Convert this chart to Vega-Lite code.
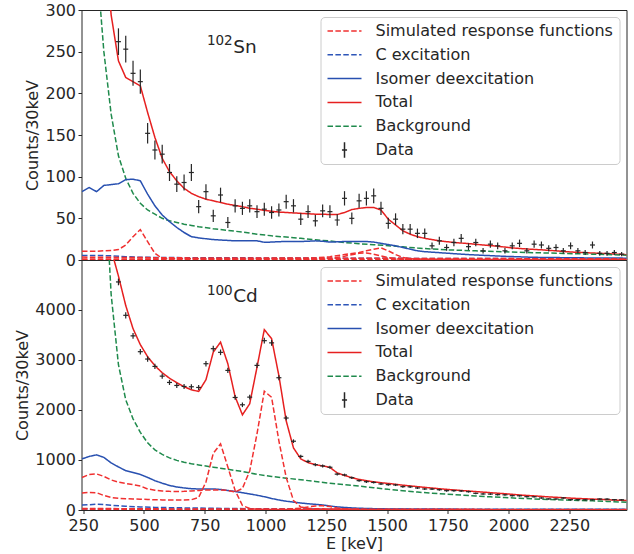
{
"$schema": "https://vega.github.io/schema/vega-lite/v6.json",
"padding": {"left": 13.5, "top": 1, "right": 7, "bottom": 2},
"spacing": 0,
"bounds": "flush",
"datasets": {
"tl": [
{"s":"Total","c":"tot","E":245,"v":700},{"s":"Total","c":"tot","E":275,"v":560},{"s":"Total","c":"tot","E":305,"v":470},{"s":"Total","c":"tot","E":335,"v":400},{"s":"Total","c":"tot","E":365,"v":294},{"s":"Total","c":"tot","E":395,"v":239},{"s":"Total","c":"tot","E":425,"v":219},{"s":"Total","c":"tot","E":455,"v":214},{"s":"Total","c":"tot","E":485,"v":209},{"s":"Total","c":"tot","E":515,"v":177},{"s":"Total","c":"tot","E":545,"v":147},{"s":"Total","c":"tot","E":575,"v":122},{"s":"Total","c":"tot","E":605,"v":106},{"s":"Total","c":"tot","E":635,"v":95},{"s":"Total","c":"tot","E":665,"v":86},{"s":"Total","c":"tot","E":695,"v":80},{"s":"Total","c":"tot","E":725,"v":76},{"s":"Total","c":"tot","E":755,"v":73},{"s":"Total","c":"tot","E":785,"v":71},{"s":"Total","c":"tot","E":815,"v":69},{"s":"Total","c":"tot","E":845,"v":67},{"s":"Total","c":"tot","E":875,"v":65.5},{"s":"Total","c":"tot","E":905,"v":64},{"s":"Total","c":"tot","E":935,"v":62},{"s":"Total","c":"tot","E":965,"v":61},{"s":"Total","c":"tot","E":995,"v":59.5},{"s":"Total","c":"tot","E":1025,"v":58.5},{"s":"Total","c":"tot","E":1055,"v":57.5},{"s":"Total","c":"tot","E":1085,"v":57},{"s":"Total","c":"tot","E":1115,"v":56.5},{"s":"Total","c":"tot","E":1145,"v":56},{"s":"Total","c":"tot","E":1175,"v":55.5},{"s":"Total","c":"tot","E":1205,"v":55},{"s":"Total","c":"tot","E":1235,"v":55},{"s":"Total","c":"tot","E":1265,"v":54.5},{"s":"Total","c":"tot","E":1295,"v":54.5},{"s":"Total","c":"tot","E":1325,"v":57},{"s":"Total","c":"tot","E":1355,"v":60.5},{"s":"Total","c":"tot","E":1385,"v":62},{"s":"Total","c":"tot","E":1415,"v":63},{"s":"Total","c":"tot","E":1445,"v":63},{"s":"Total","c":"tot","E":1475,"v":60},{"s":"Total","c":"tot","E":1505,"v":49},{"s":"Total","c":"tot","E":1535,"v":42},{"s":"Total","c":"tot","E":1565,"v":35},{"s":"Total","c":"tot","E":1595,"v":31},{"s":"Total","c":"tot","E":1625,"v":28},{"s":"Total","c":"tot","E":1655,"v":26},{"s":"Total","c":"tot","E":1685,"v":24.5},{"s":"Total","c":"tot","E":1715,"v":23},{"s":"Total","c":"tot","E":1775,"v":21},{"s":"Total","c":"tot","E":1835,"v":19.7},{"s":"Total","c":"tot","E":1895,"v":18},{"s":"Total","c":"tot","E":1955,"v":16.5},{"s":"Total","c":"tot","E":2015,"v":14.5},{"s":"Total","c":"tot","E":2075,"v":13.2},{"s":"Total","c":"tot","E":2135,"v":12.2},{"s":"Total","c":"tot","E":2195,"v":11},{"s":"Total","c":"tot","E":2255,"v":9.6},{"s":"Total","c":"tot","E":2315,"v":8.8},{"s":"Total","c":"tot","E":2375,"v":8},{"s":"Total","c":"tot","E":2435,"v":7.2},{"s":"Total","c":"tot","E":2495,"v":6.2},
{"s":"Background","c":"bg","E":245,"v":800},{"s":"Background","c":"bg","E":275,"v":520},{"s":"Background","c":"bg","E":305,"v":360},{"s":"Background","c":"bg","E":335,"v":250},{"s":"Background","c":"bg","E":365,"v":175},{"s":"Background","c":"bg","E":395,"v":125},{"s":"Background","c":"bg","E":425,"v":98},{"s":"Background","c":"bg","E":455,"v":80},{"s":"Background","c":"bg","E":485,"v":68},{"s":"Background","c":"bg","E":515,"v":60},{"s":"Background","c":"bg","E":545,"v":55},{"s":"Background","c":"bg","E":575,"v":50},{"s":"Background","c":"bg","E":605,"v":47},{"s":"Background","c":"bg","E":635,"v":45},{"s":"Background","c":"bg","E":665,"v":43},{"s":"Background","c":"bg","E":695,"v":41.5},{"s":"Background","c":"bg","E":725,"v":40},{"s":"Background","c":"bg","E":785,"v":37.5},{"s":"Background","c":"bg","E":845,"v":35.5},{"s":"Background","c":"bg","E":905,"v":33.5},{"s":"Background","c":"bg","E":965,"v":31},{"s":"Background","c":"bg","E":1025,"v":29},{"s":"Background","c":"bg","E":1085,"v":27.5},{"s":"Background","c":"bg","E":1145,"v":26},{"s":"Background","c":"bg","E":1205,"v":24.3},{"s":"Background","c":"bg","E":1265,"v":22.8},{"s":"Background","c":"bg","E":1325,"v":21},{"s":"Background","c":"bg","E":1385,"v":19.6},{"s":"Background","c":"bg","E":1445,"v":18.3},{"s":"Background","c":"bg","E":1505,"v":17.2},{"s":"Background","c":"bg","E":1565,"v":15.8},{"s":"Background","c":"bg","E":1625,"v":14.3},{"s":"Background","c":"bg","E":1685,"v":13.2},{"s":"Background","c":"bg","E":1745,"v":12.2},{"s":"Background","c":"bg","E":1865,"v":11},{"s":"Background","c":"bg","E":1985,"v":9.8},{"s":"Background","c":"bg","E":2105,"v":8.8},{"s":"Background","c":"bg","E":2225,"v":7.9},{"s":"Background","c":"bg","E":2345,"v":7},{"s":"Background","c":"bg","E":2495,"v":5.6},
{"s":"Isomer deexcitation","c":"iso","E":245,"v":82},{"s":"Isomer deexcitation","c":"iso","E":275,"v":87},{"s":"Isomer deexcitation","c":"iso","E":305,"v":82},{"s":"Isomer deexcitation","c":"iso","E":335,"v":89.5},{"s":"Isomer deexcitation","c":"iso","E":365,"v":90.5},{"s":"Isomer deexcitation","c":"iso","E":395,"v":91.5},{"s":"Isomer deexcitation","c":"iso","E":425,"v":96.5},{"s":"Isomer deexcitation","c":"iso","E":455,"v":97},{"s":"Isomer deexcitation","c":"iso","E":485,"v":95},{"s":"Isomer deexcitation","c":"iso","E":515,"v":79},{"s":"Isomer deexcitation","c":"iso","E":545,"v":65},{"s":"Isomer deexcitation","c":"iso","E":575,"v":54},{"s":"Isomer deexcitation","c":"iso","E":605,"v":46},{"s":"Isomer deexcitation","c":"iso","E":635,"v":39},{"s":"Isomer deexcitation","c":"iso","E":665,"v":33},{"s":"Isomer deexcitation","c":"iso","E":695,"v":28},{"s":"Isomer deexcitation","c":"iso","E":725,"v":26.5},{"s":"Isomer deexcitation","c":"iso","E":755,"v":25.5},{"s":"Isomer deexcitation","c":"iso","E":785,"v":24.5},{"s":"Isomer deexcitation","c":"iso","E":815,"v":24},{"s":"Isomer deexcitation","c":"iso","E":845,"v":23.5},{"s":"Isomer deexcitation","c":"iso","E":875,"v":23},{"s":"Isomer deexcitation","c":"iso","E":905,"v":23},{"s":"Isomer deexcitation","c":"iso","E":935,"v":23},{"s":"Isomer deexcitation","c":"iso","E":965,"v":23},{"s":"Isomer deexcitation","c":"iso","E":995,"v":21.3},{"s":"Isomer deexcitation","c":"iso","E":1025,"v":21.5},{"s":"Isomer deexcitation","c":"iso","E":1055,"v":22},{"s":"Isomer deexcitation","c":"iso","E":1085,"v":22.2},{"s":"Isomer deexcitation","c":"iso","E":1115,"v":22.2},{"s":"Isomer deexcitation","c":"iso","E":1145,"v":22.2},{"s":"Isomer deexcitation","c":"iso","E":1175,"v":22.5},{"s":"Isomer deexcitation","c":"iso","E":1205,"v":23},{"s":"Isomer deexcitation","c":"iso","E":1235,"v":22.5},{"s":"Isomer deexcitation","c":"iso","E":1265,"v":21.5},{"s":"Isomer deexcitation","c":"iso","E":1295,"v":21.8},{"s":"Isomer deexcitation","c":"iso","E":1325,"v":22.2},{"s":"Isomer deexcitation","c":"iso","E":1355,"v":22.2},{"s":"Isomer deexcitation","c":"iso","E":1385,"v":22.2},{"s":"Isomer deexcitation","c":"iso","E":1415,"v":22.2},{"s":"Isomer deexcitation","c":"iso","E":1445,"v":21.5},{"s":"Isomer deexcitation","c":"iso","E":1475,"v":20},{"s":"Isomer deexcitation","c":"iso","E":1505,"v":18.5},{"s":"Isomer deexcitation","c":"iso","E":1535,"v":17},{"s":"Isomer deexcitation","c":"iso","E":1565,"v":15},{"s":"Isomer deexcitation","c":"iso","E":1595,"v":13},{"s":"Isomer deexcitation","c":"iso","E":1625,"v":11},{"s":"Isomer deexcitation","c":"iso","E":1655,"v":10},{"s":"Isomer deexcitation","c":"iso","E":1685,"v":9.4},{"s":"Isomer deexcitation","c":"iso","E":1745,"v":8.2},{"s":"Isomer deexcitation","c":"iso","E":1805,"v":7},{"s":"Isomer deexcitation","c":"iso","E":1865,"v":6},{"s":"Isomer deexcitation","c":"iso","E":1985,"v":4.4},{"s":"Isomer deexcitation","c":"iso","E":2105,"v":3.2},{"s":"Isomer deexcitation","c":"iso","E":2285,"v":2.6},{"s":"Isomer deexcitation","c":"iso","E":2495,"v":2.2},
{"s":"C excitation","c":"cex","E":245,"v":5.5},{"s":"C excitation","c":"cex","E":305,"v":5.5},{"s":"C excitation","c":"cex","E":365,"v":5},{"s":"C excitation","c":"cex","E":425,"v":4},{"s":"C excitation","c":"cex","E":485,"v":3.3},{"s":"C excitation","c":"cex","E":605,"v":2.9},{"s":"C excitation","c":"cex","E":905,"v":2.6},{"s":"C excitation","c":"cex","E":1205,"v":2.3},{"s":"C excitation","c":"cex","E":1505,"v":2},{"s":"C excitation","c":"cex","E":1805,"v":1.8},{"s":"C excitation","c":"cex","E":2105,"v":1.6},{"s":"C excitation","c":"cex","E":2495,"v":1.4},
{"s":"Simulated response functions","c":"s1","E":245,"v":10.5},{"s":"Simulated response functions","c":"s1","E":275,"v":10.5},{"s":"Simulated response functions","c":"s1","E":305,"v":10.5},{"s":"Simulated response functions","c":"s1","E":335,"v":11},{"s":"Simulated response functions","c":"s1","E":365,"v":11.5},{"s":"Simulated response functions","c":"s1","E":395,"v":12.5},{"s":"Simulated response functions","c":"s1","E":425,"v":18},{"s":"Simulated response functions","c":"s1","E":455,"v":28},{"s":"Simulated response functions","c":"s1","E":485,"v":36.5},{"s":"Simulated response functions","c":"s1","E":515,"v":22},{"s":"Simulated response functions","c":"s1","E":545,"v":8},{"s":"Simulated response functions","c":"s1","E":575,"v":2},{"s":"Simulated response functions","c":"s1","E":605,"v":1.5},{"s":"Simulated response functions","c":"s1","E":905,"v":1.2},{"s":"Simulated response functions","c":"s1","E":1205,"v":1},{"s":"Simulated response functions","c":"s1","E":1505,"v":0.8},{"s":"Simulated response functions","c":"s1","E":2495,"v":0.5},
{"s":"Simulated response functions","c":"s0","E":245,"v":3.5},{"s":"Simulated response functions","c":"s0","E":365,"v":3.2},{"s":"Simulated response functions","c":"s0","E":605,"v":2.6},{"s":"Simulated response functions","c":"s0","E":905,"v":2.4},{"s":"Simulated response functions","c":"s0","E":1205,"v":2.2},{"s":"Simulated response functions","c":"s0","E":1505,"v":2},{"s":"Simulated response functions","c":"s0","E":1805,"v":1.8},{"s":"Simulated response functions","c":"s0","E":2105,"v":1.6},{"s":"Simulated response functions","c":"s0","E":2495,"v":1.3},
{"s":"Simulated response functions","c":"s2","E":245,"v":1.2},{"s":"Simulated response functions","c":"s2","E":605,"v":1.3},{"s":"Simulated response functions","c":"s2","E":905,"v":1.6},{"s":"Simulated response functions","c":"s2","E":1145,"v":2},{"s":"Simulated response functions","c":"s2","E":1205,"v":2.5},{"s":"Simulated response functions","c":"s2","E":1265,"v":4},{"s":"Simulated response functions","c":"s2","E":1325,"v":6.5},{"s":"Simulated response functions","c":"s2","E":1385,"v":9},{"s":"Simulated response functions","c":"s2","E":1415,"v":11},{"s":"Simulated response functions","c":"s2","E":1445,"v":13},{"s":"Simulated response functions","c":"s2","E":1475,"v":14.5},{"s":"Simulated response functions","c":"s2","E":1505,"v":11},{"s":"Simulated response functions","c":"s2","E":1535,"v":6.5},{"s":"Simulated response functions","c":"s2","E":1565,"v":3},{"s":"Simulated response functions","c":"s2","E":1595,"v":1.5},{"s":"Simulated response functions","c":"s2","E":1655,"v":0.8},{"s":"Simulated response functions","c":"s2","E":2495,"v":0.5},
{"s":"Simulated response functions","c":"s3","E":245,"v":0.4},{"s":"Simulated response functions","c":"s3","E":1145,"v":0.6},{"s":"Simulated response functions","c":"s3","E":1205,"v":1},{"s":"Simulated response functions","c":"s3","E":1265,"v":2},{"s":"Simulated response functions","c":"s3","E":1325,"v":4.5},{"s":"Simulated response functions","c":"s3","E":1385,"v":8},{"s":"Simulated response functions","c":"s3","E":1415,"v":8.5},{"s":"Simulated response functions","c":"s3","E":1445,"v":7},{"s":"Simulated response functions","c":"s3","E":1475,"v":5},{"s":"Simulated response functions","c":"s3","E":1505,"v":3},{"s":"Simulated response functions","c":"s3","E":1535,"v":1.2},{"s":"Simulated response functions","c":"s3","E":1595,"v":0.5},{"s":"Simulated response functions","c":"s3","E":2495,"v":0.3}
],
"td": [
{"s":"Data","E":395,"v":262,"lo":246,"hi":278},{"s":"Data","E":425,"v":253,"lo":237,"hi":269},{"s":"Data","E":455,"v":224,"lo":209,"hi":239},{"s":"Data","E":485,"v":214,"lo":199.5,"hi":228.5},{"s":"Data","E":515,"v":152,"lo":139.7,"hi":164.3},{"s":"Data","E":545,"v":132,"lo":120.5,"hi":143.5},{"s":"Data","E":575,"v":127,"lo":115.7,"hi":138.3},{"s":"Data","E":605,"v":105,"lo":94.8,"hi":115.2},{"s":"Data","E":635,"v":91,"lo":81.5,"hi":100.5},{"s":"Data","E":665,"v":93,"lo":83.4,"hi":102.6},{"s":"Data","E":695,"v":105,"lo":94.8,"hi":115.2},{"s":"Data","E":725,"v":64,"lo":56,"hi":72},{"s":"Data","E":755,"v":82,"lo":73,"hi":91},{"s":"Data","E":785,"v":53,"lo":45.7,"hi":60.3},{"s":"Data","E":815,"v":78,"lo":69.2,"hi":86.8},{"s":"Data","E":845,"v":45,"lo":38.3,"hi":51.7},{"s":"Data","E":875,"v":65,"lo":57,"hi":73},{"s":"Data","E":905,"v":62,"lo":54.1,"hi":69.9},{"s":"Data","E":935,"v":65,"lo":57,"hi":73},{"s":"Data","E":965,"v":58,"lo":50.4,"hi":65.6},{"s":"Data","E":995,"v":61,"lo":53.2,"hi":68.8},{"s":"Data","E":1025,"v":57,"lo":49.5,"hi":64.5},{"s":"Data","E":1055,"v":60,"lo":52.3,"hi":67.7},{"s":"Data","E":1085,"v":70,"lo":61.6,"hi":78.4},{"s":"Data","E":1115,"v":65,"lo":57,"hi":73},{"s":"Data","E":1145,"v":49,"lo":42,"hi":56},{"s":"Data","E":1175,"v":58,"lo":50.4,"hi":65.6},{"s":"Data","E":1205,"v":47,"lo":40.1,"hi":53.9},{"s":"Data","E":1235,"v":59,"lo":51.3,"hi":66.7},{"s":"Data","E":1265,"v":58,"lo":50.4,"hi":65.6},{"s":"Data","E":1295,"v":48,"lo":41.1,"hi":54.9},{"s":"Data","E":1325,"v":74,"lo":65.4,"hi":82.6},{"s":"Data","E":1355,"v":50,"lo":42.9,"hi":57.1},{"s":"Data","E":1385,"v":71,"lo":62.6,"hi":79.4},{"s":"Data","E":1415,"v":74,"lo":65.4,"hi":82.6},{"s":"Data","E":1445,"v":77,"lo":68.2,"hi":85.8},{"s":"Data","E":1475,"v":62,"lo":54.1,"hi":69.9},{"s":"Data","E":1505,"v":44,"lo":37.4,"hi":50.6},{"s":"Data","E":1535,"v":49,"lo":42,"hi":56},{"s":"Data","E":1565,"v":37,"lo":30.9,"hi":43.1},{"s":"Data","E":1595,"v":37,"lo":30.9,"hi":43.1},{"s":"Data","E":1625,"v":32,"lo":26.3,"hi":37.7},{"s":"Data","E":1655,"v":32,"lo":26.3,"hi":37.7},{"s":"Data","E":1685,"v":17,"lo":12.9,"hi":21.1},{"s":"Data","E":1715,"v":23,"lo":18.2,"hi":27.8},{"s":"Data","E":1745,"v":15,"lo":11.1,"hi":18.9},{"s":"Data","E":1775,"v":21,"lo":16.4,"hi":25.6},{"s":"Data","E":1805,"v":26,"lo":20.9,"hi":31.1},{"s":"Data","E":1835,"v":16,"lo":12,"hi":20},{"s":"Data","E":1865,"v":21,"lo":16.4,"hi":25.6},{"s":"Data","E":1895,"v":11,"lo":7.7,"hi":14.3},{"s":"Data","E":1925,"v":19,"lo":14.6,"hi":23.4},{"s":"Data","E":1955,"v":17,"lo":12.9,"hi":21.1},{"s":"Data","E":1985,"v":11,"lo":7.7,"hi":14.3},{"s":"Data","E":2015,"v":17,"lo":12.9,"hi":21.1},{"s":"Data","E":2045,"v":20,"lo":15.5,"hi":24.5},{"s":"Data","E":2075,"v":11,"lo":7.7,"hi":14.3},{"s":"Data","E":2105,"v":19,"lo":14.6,"hi":23.4},{"s":"Data","E":2135,"v":18,"lo":13.8,"hi":22.2},{"s":"Data","E":2165,"v":14,"lo":10.3,"hi":17.7},{"s":"Data","E":2195,"v":15,"lo":11.1,"hi":18.9},{"s":"Data","E":2225,"v":11,"lo":7.7,"hi":14.3},{"s":"Data","E":2255,"v":17,"lo":12.9,"hi":21.1},{"s":"Data","E":2285,"v":11,"lo":7.7,"hi":14.3},{"s":"Data","E":2315,"v":9,"lo":6,"hi":12},{"s":"Data","E":2345,"v":18,"lo":13.8,"hi":22.2},{"s":"Data","E":2375,"v":8,"lo":5.2,"hi":10.8},{"s":"Data","E":2405,"v":8,"lo":5.2,"hi":10.8},{"s":"Data","E":2435,"v":9,"lo":6,"hi":12},{"s":"Data","E":2465,"v":7,"lo":4.4,"hi":9.6}
],
"bl": [
{"s":"Total","c":"tot","E":245,"v":9000},{"s":"Total","c":"tot","E":275,"v":8000},{"s":"Total","c":"tot","E":305,"v":7000},{"s":"Total","c":"tot","E":335,"v":5900},{"s":"Total","c":"tot","E":365,"v":5200},{"s":"Total","c":"tot","E":395,"v":4670},{"s":"Total","c":"tot","E":425,"v":4080},{"s":"Total","c":"tot","E":455,"v":3620},{"s":"Total","c":"tot","E":485,"v":3300},{"s":"Total","c":"tot","E":515,"v":3060},{"s":"Total","c":"tot","E":545,"v":2880},{"s":"Total","c":"tot","E":575,"v":2740},{"s":"Total","c":"tot","E":605,"v":2630},{"s":"Total","c":"tot","E":635,"v":2540},{"s":"Total","c":"tot","E":665,"v":2460},{"s":"Total","c":"tot","E":695,"v":2400},{"s":"Total","c":"tot","E":725,"v":2366},{"s":"Total","c":"tot","E":755,"v":2600},{"s":"Total","c":"tot","E":785,"v":3150},{"s":"Total","c":"tot","E":815,"v":3350},{"s":"Total","c":"tot","E":845,"v":2920},{"s":"Total","c":"tot","E":875,"v":2260},{"s":"Total","c":"tot","E":905,"v":1900},{"s":"Total","c":"tot","E":935,"v":2120},{"s":"Total","c":"tot","E":965,"v":2850},{"s":"Total","c":"tot","E":995,"v":3600},{"s":"Total","c":"tot","E":1025,"v":3420},{"s":"Total","c":"tot","E":1055,"v":2680},{"s":"Total","c":"tot","E":1085,"v":1780},{"s":"Total","c":"tot","E":1115,"v":1240},{"s":"Total","c":"tot","E":1145,"v":1020},{"s":"Total","c":"tot","E":1175,"v":945},{"s":"Total","c":"tot","E":1205,"v":905},{"s":"Total","c":"tot","E":1235,"v":880},{"s":"Total","c":"tot","E":1265,"v":850},{"s":"Total","c":"tot","E":1295,"v":740},{"s":"Total","c":"tot","E":1325,"v":690},{"s":"Total","c":"tot","E":1355,"v":645},{"s":"Total","c":"tot","E":1385,"v":610},{"s":"Total","c":"tot","E":1415,"v":585},{"s":"Total","c":"tot","E":1445,"v":562},{"s":"Total","c":"tot","E":1475,"v":545},{"s":"Total","c":"tot","E":1505,"v":530},{"s":"Total","c":"tot","E":1565,"v":496},{"s":"Total","c":"tot","E":1625,"v":466},{"s":"Total","c":"tot","E":1685,"v":438},{"s":"Total","c":"tot","E":1745,"v":412},{"s":"Total","c":"tot","E":1805,"v":390},{"s":"Total","c":"tot","E":1865,"v":368},{"s":"Total","c":"tot","E":1925,"v":346},{"s":"Total","c":"tot","E":1985,"v":325},{"s":"Total","c":"tot","E":2045,"v":300},{"s":"Total","c":"tot","E":2105,"v":282},{"s":"Total","c":"tot","E":2165,"v":262},{"s":"Total","c":"tot","E":2225,"v":245},{"s":"Total","c":"tot","E":2285,"v":230},{"s":"Total","c":"tot","E":2345,"v":218},{"s":"Total","c":"tot","E":2405,"v":205},{"s":"Total","c":"tot","E":2465,"v":193},{"s":"Total","c":"tot","E":2495,"v":186},
{"s":"Background","c":"bg","E":245,"v":40000},{"s":"Background","c":"bg","E":275,"v":22000},{"s":"Background","c":"bg","E":305,"v":12000},{"s":"Background","c":"bg","E":335,"v":7000},{"s":"Background","c":"bg","E":365,"v":4300},{"s":"Background","c":"bg","E":395,"v":2900},{"s":"Background","c":"bg","E":425,"v":2200},{"s":"Background","c":"bg","E":455,"v":1820},{"s":"Background","c":"bg","E":485,"v":1550},{"s":"Background","c":"bg","E":515,"v":1340},{"s":"Background","c":"bg","E":545,"v":1200},{"s":"Background","c":"bg","E":575,"v":1110},{"s":"Background","c":"bg","E":605,"v":1040},{"s":"Background","c":"bg","E":635,"v":990},{"s":"Background","c":"bg","E":665,"v":955},{"s":"Background","c":"bg","E":695,"v":925},{"s":"Background","c":"bg","E":725,"v":900},{"s":"Background","c":"bg","E":785,"v":855},{"s":"Background","c":"bg","E":845,"v":812},{"s":"Background","c":"bg","E":905,"v":768},{"s":"Background","c":"bg","E":965,"v":712},{"s":"Background","c":"bg","E":1025,"v":670},{"s":"Background","c":"bg","E":1085,"v":635},{"s":"Background","c":"bg","E":1145,"v":605},{"s":"Background","c":"bg","E":1205,"v":568},{"s":"Background","c":"bg","E":1265,"v":535},{"s":"Background","c":"bg","E":1325,"v":505},{"s":"Background","c":"bg","E":1385,"v":476},{"s":"Background","c":"bg","E":1445,"v":446},{"s":"Background","c":"bg","E":1505,"v":412},{"s":"Background","c":"bg","E":1565,"v":385},{"s":"Background","c":"bg","E":1625,"v":358},{"s":"Background","c":"bg","E":1685,"v":336},{"s":"Background","c":"bg","E":1745,"v":315},{"s":"Background","c":"bg","E":1805,"v":298},{"s":"Background","c":"bg","E":1865,"v":280},{"s":"Background","c":"bg","E":1925,"v":263},{"s":"Background","c":"bg","E":1985,"v":248},{"s":"Background","c":"bg","E":2045,"v":233},{"s":"Background","c":"bg","E":2105,"v":221},{"s":"Background","c":"bg","E":2165,"v":210},{"s":"Background","c":"bg","E":2225,"v":200},{"s":"Background","c":"bg","E":2285,"v":191},{"s":"Background","c":"bg","E":2345,"v":183},{"s":"Background","c":"bg","E":2405,"v":172},{"s":"Background","c":"bg","E":2465,"v":159},{"s":"Background","c":"bg","E":2495,"v":153},
{"s":"Isomer deexcitation","c":"iso","E":245,"v":1020},{"s":"Isomer deexcitation","c":"iso","E":275,"v":1070},{"s":"Isomer deexcitation","c":"iso","E":305,"v":1100},{"s":"Isomer deexcitation","c":"iso","E":335,"v":1050},{"s":"Isomer deexcitation","c":"iso","E":365,"v":940},{"s":"Isomer deexcitation","c":"iso","E":395,"v":860},{"s":"Isomer deexcitation","c":"iso","E":425,"v":785},{"s":"Isomer deexcitation","c":"iso","E":455,"v":750},{"s":"Isomer deexcitation","c":"iso","E":485,"v":710},{"s":"Isomer deexcitation","c":"iso","E":515,"v":650},{"s":"Isomer deexcitation","c":"iso","E":545,"v":585},{"s":"Isomer deexcitation","c":"iso","E":575,"v":535},{"s":"Isomer deexcitation","c":"iso","E":605,"v":490},{"s":"Isomer deexcitation","c":"iso","E":635,"v":460},{"s":"Isomer deexcitation","c":"iso","E":665,"v":440},{"s":"Isomer deexcitation","c":"iso","E":695,"v":425},{"s":"Isomer deexcitation","c":"iso","E":725,"v":420},{"s":"Isomer deexcitation","c":"iso","E":755,"v":420},{"s":"Isomer deexcitation","c":"iso","E":785,"v":420},{"s":"Isomer deexcitation","c":"iso","E":815,"v":410},{"s":"Isomer deexcitation","c":"iso","E":845,"v":390},{"s":"Isomer deexcitation","c":"iso","E":875,"v":370},{"s":"Isomer deexcitation","c":"iso","E":905,"v":345},{"s":"Isomer deexcitation","c":"iso","E":935,"v":320},{"s":"Isomer deexcitation","c":"iso","E":965,"v":295},{"s":"Isomer deexcitation","c":"iso","E":995,"v":265},{"s":"Isomer deexcitation","c":"iso","E":1025,"v":230},{"s":"Isomer deexcitation","c":"iso","E":1055,"v":200},{"s":"Isomer deexcitation","c":"iso","E":1085,"v":175},{"s":"Isomer deexcitation","c":"iso","E":1115,"v":157},{"s":"Isomer deexcitation","c":"iso","E":1145,"v":140},{"s":"Isomer deexcitation","c":"iso","E":1175,"v":125},{"s":"Isomer deexcitation","c":"iso","E":1205,"v":113},{"s":"Isomer deexcitation","c":"iso","E":1235,"v":100},{"s":"Isomer deexcitation","c":"iso","E":1265,"v":80},{"s":"Isomer deexcitation","c":"iso","E":1295,"v":62},{"s":"Isomer deexcitation","c":"iso","E":1325,"v":50},{"s":"Isomer deexcitation","c":"iso","E":1385,"v":35},{"s":"Isomer deexcitation","c":"iso","E":1445,"v":27},{"s":"Isomer deexcitation","c":"iso","E":1505,"v":21},{"s":"Isomer deexcitation","c":"iso","E":1625,"v":16},{"s":"Isomer deexcitation","c":"iso","E":1805,"v":12},{"s":"Isomer deexcitation","c":"iso","E":2105,"v":10},{"s":"Isomer deexcitation","c":"iso","E":2495,"v":8},
{"s":"C excitation","c":"cex","E":245,"v":100},{"s":"C excitation","c":"cex","E":275,"v":105},{"s":"C excitation","c":"cex","E":305,"v":115},{"s":"C excitation","c":"cex","E":335,"v":108},{"s":"C excitation","c":"cex","E":365,"v":95},{"s":"C excitation","c":"cex","E":425,"v":75},{"s":"C excitation","c":"cex","E":485,"v":62},{"s":"C excitation","c":"cex","E":545,"v":52},{"s":"C excitation","c":"cex","E":635,"v":44},{"s":"C excitation","c":"cex","E":725,"v":38},{"s":"C excitation","c":"cex","E":845,"v":30},{"s":"C excitation","c":"cex","E":965,"v":25},{"s":"C excitation","c":"cex","E":1085,"v":20},{"s":"C excitation","c":"cex","E":1235,"v":17},{"s":"C excitation","c":"cex","E":1505,"v":14},{"s":"C excitation","c":"cex","E":1805,"v":12},{"s":"C excitation","c":"cex","E":2105,"v":11},{"s":"C excitation","c":"cex","E":2495,"v":10},
{"s":"C excitation","c":"cex2","E":245,"v":20},{"s":"C excitation","c":"cex2","E":1205,"v":12},{"s":"C excitation","c":"cex2","E":2495,"v":8},
{"s":"Simulated response functions","c":"sa","E":245,"v":650},{"s":"Simulated response functions","c":"sa","E":275,"v":710},{"s":"Simulated response functions","c":"sa","E":305,"v":720},{"s":"Simulated response functions","c":"sa","E":335,"v":670},{"s":"Simulated response functions","c":"sa","E":365,"v":600},{"s":"Simulated response functions","c":"sa","E":395,"v":555},{"s":"Simulated response functions","c":"sa","E":425,"v":530},{"s":"Simulated response functions","c":"sa","E":455,"v":505},{"s":"Simulated response functions","c":"sa","E":485,"v":480},{"s":"Simulated response functions","c":"sa","E":515,"v":420},{"s":"Simulated response functions","c":"sa","E":545,"v":395},{"s":"Simulated response functions","c":"sa","E":575,"v":378},{"s":"Simulated response functions","c":"sa","E":605,"v":372},{"s":"Simulated response functions","c":"sa","E":635,"v":370},{"s":"Simulated response functions","c":"sa","E":665,"v":372},{"s":"Simulated response functions","c":"sa","E":695,"v":380},{"s":"Simulated response functions","c":"sa","E":725,"v":390},{"s":"Simulated response functions","c":"sa","E":755,"v":398},{"s":"Simulated response functions","c":"sa","E":785,"v":400},{"s":"Simulated response functions","c":"sa","E":815,"v":400},{"s":"Simulated response functions","c":"sa","E":845,"v":390},{"s":"Simulated response functions","c":"sa","E":875,"v":360},{"s":"Simulated response functions","c":"sa","E":905,"v":430},{"s":"Simulated response functions","c":"sa","E":935,"v":780},{"s":"Simulated response functions","c":"sa","E":965,"v":1520},{"s":"Simulated response functions","c":"sa","E":995,"v":2370},{"s":"Simulated response functions","c":"sa","E":1025,"v":2250},{"s":"Simulated response functions","c":"sa","E":1055,"v":1380},{"s":"Simulated response functions","c":"sa","E":1085,"v":650},{"s":"Simulated response functions","c":"sa","E":1115,"v":190},{"s":"Simulated response functions","c":"sa","E":1145,"v":60},{"s":"Simulated response functions","c":"sa","E":1175,"v":30},{"s":"Simulated response functions","c":"sa","E":1205,"v":25},{"s":"Simulated response functions","c":"sa","E":1295,"v":20},{"s":"Simulated response functions","c":"sa","E":1505,"v":15},{"s":"Simulated response functions","c":"sa","E":2495,"v":8},
{"s":"Simulated response functions","c":"sb","E":245,"v":340},{"s":"Simulated response functions","c":"sb","E":275,"v":350},{"s":"Simulated response functions","c":"sb","E":305,"v":345},{"s":"Simulated response functions","c":"sb","E":335,"v":290},{"s":"Simulated response functions","c":"sb","E":365,"v":250},{"s":"Simulated response functions","c":"sb","E":395,"v":235},{"s":"Simulated response functions","c":"sb","E":425,"v":225},{"s":"Simulated response functions","c":"sb","E":455,"v":220},{"s":"Simulated response functions","c":"sb","E":485,"v":215},{"s":"Simulated response functions","c":"sb","E":515,"v":210},{"s":"Simulated response functions","c":"sb","E":545,"v":205},{"s":"Simulated response functions","c":"sb","E":575,"v":202},{"s":"Simulated response functions","c":"sb","E":605,"v":200},{"s":"Simulated response functions","c":"sb","E":635,"v":200},{"s":"Simulated response functions","c":"sb","E":665,"v":200},{"s":"Simulated response functions","c":"sb","E":695,"v":205},{"s":"Simulated response functions","c":"sb","E":725,"v":250},{"s":"Simulated response functions","c":"sb","E":755,"v":560},{"s":"Simulated response functions","c":"sb","E":785,"v":1130},{"s":"Simulated response functions","c":"sb","E":815,"v":1320},{"s":"Simulated response functions","c":"sb","E":845,"v":860},{"s":"Simulated response functions","c":"sb","E":875,"v":390},{"s":"Simulated response functions","c":"sb","E":905,"v":90},{"s":"Simulated response functions","c":"sb","E":935,"v":30},{"s":"Simulated response functions","c":"sb","E":965,"v":15},{"s":"Simulated response functions","c":"sb","E":1025,"v":10},{"s":"Simulated response functions","c":"sb","E":1505,"v":6},{"s":"Simulated response functions","c":"sb","E":2495,"v":4},
{"s":"Simulated response functions","c":"sc","E":245,"v":30},{"s":"Simulated response functions","c":"sc","E":365,"v":28},{"s":"Simulated response functions","c":"sc","E":605,"v":22},{"s":"Simulated response functions","c":"sc","E":905,"v":20},{"s":"Simulated response functions","c":"sc","E":1085,"v":20},{"s":"Simulated response functions","c":"sc","E":1145,"v":35},{"s":"Simulated response functions","c":"sc","E":1175,"v":60},{"s":"Simulated response functions","c":"sc","E":1205,"v":80},{"s":"Simulated response functions","c":"sc","E":1235,"v":85},{"s":"Simulated response functions","c":"sc","E":1265,"v":70},{"s":"Simulated response functions","c":"sc","E":1295,"v":40},{"s":"Simulated response functions","c":"sc","E":1325,"v":20},{"s":"Simulated response functions","c":"sc","E":1385,"v":12},{"s":"Simulated response functions","c":"sc","E":1805,"v":8},{"s":"Simulated response functions","c":"sc","E":2495,"v":5},
{"s":"Simulated response functions","c":"s0","E":245,"v":18},{"s":"Simulated response functions","c":"s0","E":605,"v":12},{"s":"Simulated response functions","c":"s0","E":1205,"v":8},{"s":"Simulated response functions","c":"s0","E":2495,"v":4}
],
"bd": [
{"s":"Data","E":395,"v":4552,"lo":4485,"hi":4619},{"s":"Data","E":425,"v":3886,"lo":3824,"hi":3948},{"s":"Data","E":455,"v":3476,"lo":3417,"hi":3535},{"s":"Data","E":485,"v":3160,"lo":3104,"hi":3216},{"s":"Data","E":515,"v":3013,"lo":2958,"hi":3068},{"s":"Data","E":545,"v":2866,"lo":2812,"hi":2920},{"s":"Data","E":575,"v":2672,"lo":2620,"hi":2724},{"s":"Data","E":605,"v":2546,"lo":2496,"hi":2596},{"s":"Data","E":635,"v":2486,"lo":2436,"hi":2536},{"s":"Data","E":665,"v":2466,"lo":2416,"hi":2516},{"s":"Data","E":695,"v":2460,"lo":2410,"hi":2510},{"s":"Data","E":725,"v":2446,"lo":2397,"hi":2495},{"s":"Data","E":755,"v":2920,"lo":2866,"hi":2974},{"s":"Data","E":785,"v":3220,"lo":3163,"hi":3277},{"s":"Data","E":815,"v":3147,"lo":3091,"hi":3203},{"s":"Data","E":845,"v":2786,"lo":2733,"hi":2839},{"s":"Data","E":875,"v":2246,"lo":2199,"hi":2293},{"s":"Data","E":905,"v":2100,"lo":2054,"hi":2146},{"s":"Data","E":935,"v":2253,"lo":2206,"hi":2300},{"s":"Data","E":965,"v":2886,"lo":2832,"hi":2940},{"s":"Data","E":995,"v":3380,"lo":3322,"hi":3438},{"s":"Data","E":1025,"v":3336,"lo":3278,"hi":3394},{"s":"Data","E":1055,"v":2640,"lo":2589,"hi":2691},{"s":"Data","E":1085,"v":1836,"lo":1793,"hi":1879},{"s":"Data","E":1115,"v":1373,"lo":1336,"hi":1410},{"s":"Data","E":1145,"v":1070,"lo":1037,"hi":1103},{"s":"Data","E":1175,"v":970,"lo":939,"hi":1001},{"s":"Data","E":1205,"v":905,"lo":875,"hi":935},{"s":"Data","E":1235,"v":880,"lo":850,"hi":910},{"s":"Data","E":1265,"v":853,"lo":824,"hi":882},{"s":"Data","E":1295,"v":715,"lo":688,"hi":742},{"s":"Data","E":1325,"v":700,"lo":674,"hi":726},{"s":"Data","E":1355,"v":645,"lo":620,"hi":670},{"s":"Data","E":1385,"v":586,"lo":562,"hi":610},{"s":"Data","E":1415,"v":565,"lo":541,"hi":589},{"s":"Data","E":1445,"v":550,"lo":527,"hi":573},{"s":"Data","E":1475,"v":520,"lo":497,"hi":543},{"s":"Data","E":1505,"v":506,"lo":484,"hi":528},{"s":"Data","E":1535,"v":500,"lo":478,"hi":522},{"s":"Data","E":1565,"v":466,"lo":444,"hi":488},{"s":"Data","E":1595,"v":462,"lo":441,"hi":483},{"s":"Data","E":1625,"v":440,"lo":419,"hi":461},{"s":"Data","E":1655,"v":420,"lo":400,"hi":440},{"s":"Data","E":1685,"v":418,"lo":398,"hi":438},{"s":"Data","E":1715,"v":405,"lo":385,"hi":425},{"s":"Data","E":1745,"v":386,"lo":366,"hi":406},{"s":"Data","E":1775,"v":386,"lo":366,"hi":406},{"s":"Data","E":1805,"v":380,"lo":361,"hi":399},{"s":"Data","E":1835,"v":366,"lo":347,"hi":385},{"s":"Data","E":1865,"v":333,"lo":315,"hi":351},{"s":"Data","E":1895,"v":320,"lo":302,"hi":338},{"s":"Data","E":1925,"v":318,"lo":300,"hi":336},{"s":"Data","E":1955,"v":306,"lo":289,"hi":323},{"s":"Data","E":1985,"v":303,"lo":286,"hi":320},{"s":"Data","E":2015,"v":286,"lo":269,"hi":303},{"s":"Data","E":2045,"v":284,"lo":267,"hi":301},{"s":"Data","E":2075,"v":266,"lo":250,"hi":282},{"s":"Data","E":2105,"v":264,"lo":248,"hi":280},{"s":"Data","E":2135,"v":240,"lo":225,"hi":255},{"s":"Data","E":2165,"v":222,"lo":207,"hi":237},{"s":"Data","E":2195,"v":220,"lo":205,"hi":235},{"s":"Data","E":2225,"v":240,"lo":225,"hi":255},{"s":"Data","E":2255,"v":206,"lo":192,"hi":220},{"s":"Data","E":2285,"v":206,"lo":192,"hi":220},{"s":"Data","E":2315,"v":204,"lo":190,"hi":218},{"s":"Data","E":2345,"v":205,"lo":191,"hi":219},{"s":"Data","E":2375,"v":220,"lo":205,"hi":235},{"s":"Data","E":2405,"v":218,"lo":203,"hi":233},{"s":"Data","E":2435,"v":206,"lo":192,"hi":220},{"s":"Data","E":2465,"v":204,"lo":190,"hi":218}
]
},
"vconcat": [
{
"width": 545, "height": 250,
"encoding": {
"x": {"field": "E", "type": "quantitative", "scale": {"domain": [243, 2485], "nice": false, "zero": false}, "axis": null},
"y": {"field": "v", "type": "quantitative", "scale": {"domain": [0, 300], "nice": false, "zero": false}, "axis": {"title": "Counts/30keV", "values": [0, 50, 100, 150, 200, 250, 300]}}
},
"layer": [
{"data": {"name": "tl"}, "mark": {"type": "line", "clip": true, "strokeWidth": 1.5},
"encoding": {
"color": {"field": "s", "type": "nominal", "scale": {"domain": ["Simulated response functions", "C excitation", "Isomer deexcitation", "Total", "Background", "Data"], "range": ["#f03030", "#2d55b8", "#2850b0", "#e62020", "#1f8a4c", "#262626"]}, "legend": {"title": null, "encode": {"symbols": {"update": {"shape": {"signal": "datum.value === 'Data' ? 'M0,-0.45V0.45M-0.15,0H0.15' : 'M-1,0H1'"}}}}}},
"strokeDash": {"field": "s", "type": "nominal", "scale": {"domain": ["Simulated response functions", "C excitation", "Isomer deexcitation", "Total", "Background", "Data"], "range": [[5.5, 2.4], [5.5, 2.4], [1, 0], [1, 0], [5.5, 2.4], [1, 0]]}, "legend": {"title": null, "encode": {"symbols": {"update": {"shape": {"signal": "datum.value === 'Data' ? 'M0,-0.45V0.45M-0.15,0H0.15' : 'M-1,0H1'"}}}}}},
"detail": {"field": "c"}
}},
{"data": {"name": "td"}, "mark": {"type": "rule", "strokeWidth": 1.2},
"encoding": {
"y": {"field": "lo", "type": "quantitative", "scale": {"domain": [0, 300], "nice": false, "zero": false}, "axis": {"title": "Counts/30keV", "values": [0, 50, 100, 150, 200, 250, 300]}},
"y2": {"field": "hi"},
"color": {"field": "s", "type": "nominal", "scale": {"domain": ["Simulated response functions", "C excitation", "Isomer deexcitation", "Total", "Background", "Data"], "range": ["#f03030", "#2d55b8", "#2850b0", "#e62020", "#1f8a4c", "#262626"]}, "legend": {"title": null, "encode": {"symbols": {"update": {"shape": {"signal": "datum.value === 'Data' ? 'M0,-0.45V0.45M-0.15,0H0.15' : 'M-1,0H1'"}}}}}}
}},
{"data": {"name": "td"}, "mark": {"type": "tick", "orient": "horizontal", "size": 5, "thickness": 1.2, "color": "#262626", "opacity": 1}},
{"data": {"values": [{"E": 865, "v": 258.5, "t": "102"}]}, "mark": {"type": "text", "align": "right", "baseline": "alphabetic", "font": "DejaVu Sans", "fontSize": 13.5, "color": "#262626"}, "encoding": {"text": {"field": "t"}}},
{"data": {"values": [{"E": 867, "v": 248.4, "t": "Sn"}]}, "mark": {"type": "text", "align": "left", "baseline": "alphabetic", "font": "DejaVu Sans", "fontSize": 18.5, "color": "#262626"}, "encoding": {"text": {"field": "t"}}}
]
},
{
"width": 545, "height": 250,
"encoding": {
"x": {"field": "E", "type": "quantitative", "scale": {"domain": [243, 2485], "nice": false, "zero": false}, "axis": {"title": "E [keV]", "format": "d", "values": [250, 500, 750, 1000, 1250, 1500, 1750, 2000, 2250]}},
"y": {"field": "v", "type": "quantitative", "scale": {"domain": [0, 4990], "nice": false, "zero": false}, "axis": {"title": "Counts/30keV", "format": "d", "values": [0, 1000, 2000, 3000, 4000]}}
},
"layer": [
{"data": {"name": "bl"}, "mark": {"type": "line", "clip": true, "strokeWidth": 1.5},
"encoding": {
"color": {"field": "s", "type": "nominal", "scale": {"domain": ["Simulated response functions", "C excitation", "Isomer deexcitation", "Total", "Background", "Data"], "range": ["#f03030", "#2d55b8", "#2850b0", "#e62020", "#1f8a4c", "#262626"]}, "legend": {"title": null, "encode": {"symbols": {"update": {"shape": {"signal": "datum.value === 'Data' ? 'M0,-0.45V0.45M-0.15,0H0.15' : 'M-1,0H1'"}}}}}},
"strokeDash": {"field": "s", "type": "nominal", "scale": {"domain": ["Simulated response functions", "C excitation", "Isomer deexcitation", "Total", "Background", "Data"], "range": [[5.5, 2.4], [5.5, 2.4], [1, 0], [1, 0], [5.5, 2.4], [1, 0]]}, "legend": {"title": null, "encode": {"symbols": {"update": {"shape": {"signal": "datum.value === 'Data' ? 'M0,-0.45V0.45M-0.15,0H0.15' : 'M-1,0H1'"}}}}}},
"detail": {"field": "c"}
}},
{"data": {"name": "bd"}, "mark": {"type": "rule", "strokeWidth": 1.2},
"encoding": {
"y": {"field": "lo", "type": "quantitative", "scale": {"domain": [0, 4990], "nice": false, "zero": false}, "axis": {"title": "Counts/30keV", "format": "d", "values": [0, 1000, 2000, 3000, 4000]}},
"y2": {"field": "hi"},
"color": {"field": "s", "type": "nominal", "scale": {"domain": ["Simulated response functions", "C excitation", "Isomer deexcitation", "Total", "Background", "Data"], "range": ["#f03030", "#2d55b8", "#2850b0", "#e62020", "#1f8a4c", "#262626"]}, "legend": {"title": null, "encode": {"symbols": {"update": {"shape": {"signal": "datum.value === 'Data' ? 'M0,-0.45V0.45M-0.15,0H0.15' : 'M-1,0H1'"}}}}}}
}},
{"data": {"name": "bd"}, "mark": {"type": "tick", "orient": "horizontal", "size": 5, "thickness": 1.2, "color": "#262626", "opacity": 1}},
{"data": {"values": [{"E": 865, "v": 4300, "t": "100"}]}, "mark": {"type": "text", "align": "right", "baseline": "alphabetic", "font": "DejaVu Sans", "fontSize": 13.5, "color": "#262626"}, "encoding": {"text": {"field": "t"}}},
{"data": {"values": [{"E": 867, "v": 4146, "t": "Cd"}]}, "mark": {"type": "text", "align": "left", "baseline": "alphabetic", "font": "DejaVu Sans", "fontSize": 18.5, "color": "#262626"}, "encoding": {"text": {"field": "t"}}}
]
}
],
"resolve": {
"scale": {"color": "shared", "strokeDash": "shared"},
"legend": {"color": "independent", "strokeDash": "independent"}
},
"config": {
"font": "DejaVu Sans",
"view": {"stroke": "#262626", "strokeWidth": 1},
"axis": {"labelFont": "DejaVu Sans", "labelFontSize": 16, "labelColor": "#262626", "titleFont": "DejaVu Sans", "titleFontSize": 16, "titleFontWeight": "normal", "titleColor": "#262626", "tickColor": "#262626", "tickSize": 3.5, "tickWidth": 1, "labelPadding": 2.5, "grid": false, "domain": false},
"axisY": {"titlePadding": 4},
"axisX": {"titlePadding": 2, "labelFlush": false, "labelPadding": 3.5},
"legend": {"orient": "top-right", "offset": 7, "padding": 6, "labelFont": "DejaVu Sans", "labelFontSize": 16, "labelColor": "#262626", "labelLimit": 400, "labelOffset": 13, "symbolType": "stroke", "symbolSize": 1156, "symbolStrokeWidth": 1.5, "rowPadding": 7.8, "clipHeight": 16, "fillColor": "rgba(255,255,255,0.8)", "strokeColor": "#cccccc", "cornerRadius": 4}
}
}
